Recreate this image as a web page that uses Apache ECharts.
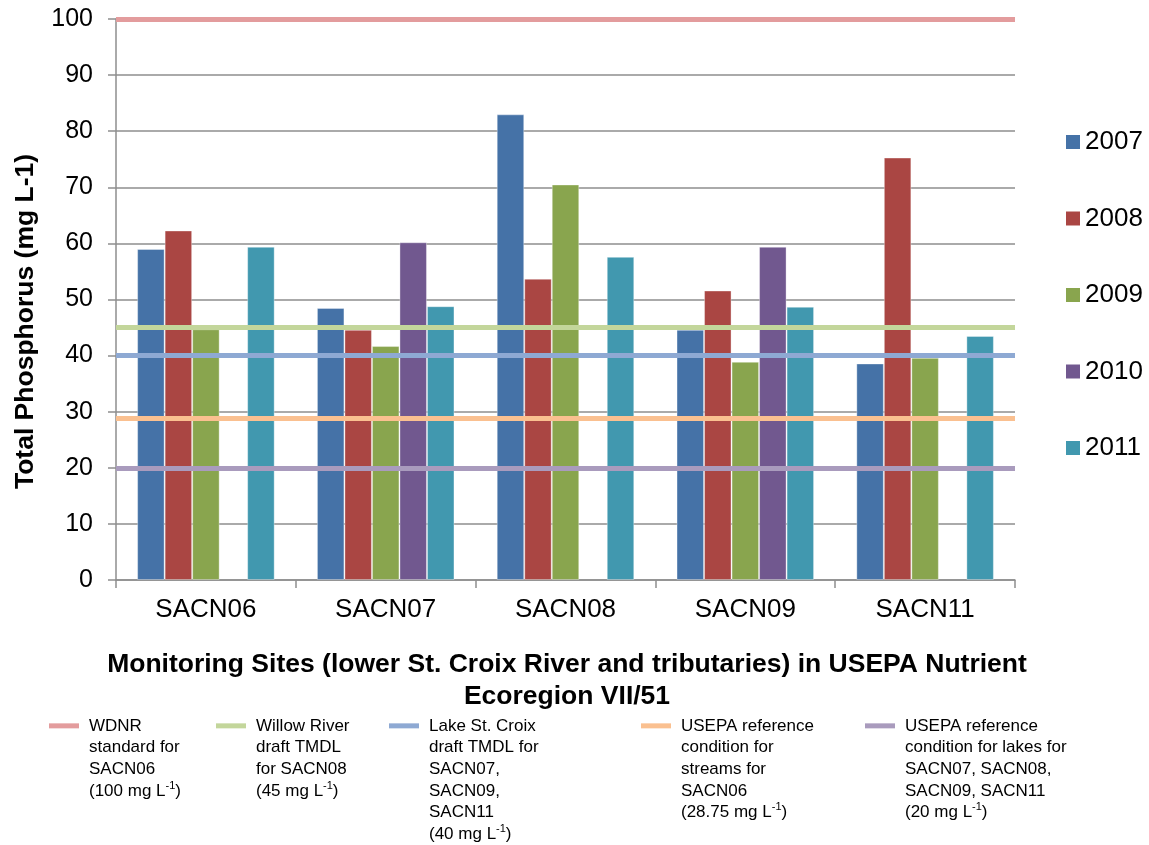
<!DOCTYPE html>
<html><head><meta charset="utf-8">
<script src="https://cdn.jsdelivr.net/npm/echarts@6/dist/echarts.min.js"></script>
<style>html,body{margin:0;padding:0;background:#fff}#c{width:1149px;height:845px}</style>
</head><body><div id="c"></div>
<script>
// ---------- data ----------
const categories = ['SACN06', 'SACN07', 'SACN08', 'SACN09', 'SACN11'];
const years = ['2007', '2008', '2009', '2010', '2011'];
const v2007 = [59.0, 48.5, 83.0, 44.6, 38.6];
const v2008 = [62.3, 44.6, 53.7, 51.6, 75.3];
const v2009 = [44.7, 41.7, 70.5, 38.9, 39.6];
const v2010 = [null, 60.2, null, 59.4, null];
const v2011 = [59.4, 48.8, 57.6, 48.7, 43.5];
const yearValues = [v2007, v2008, v2009, v2010, v2011];

const refNames = [
  'WDNR standard for SACN06 (100 mg L-1)',
  'Willow River draft TMDL for SACN08 (45 mg L-1)',
  'Lake St. Croix draft TMDL for SACN07, SACN09, SACN11 (40 mg L-1)',
  'USEPA reference condition for streams for SACN06 (28.75 mg L-1)',
  'USEPA reference condition for lakes for SACN07, SACN08, SACN09, SACN11 (20 mg L-1)'
];
const refLegendText = [
  'WDNR\nstandard for\nSACN06\n(100 mg L-1)',
  'Willow River\ndraft TMDL\nfor SACN08\n(45 mg L-1)',
  'Lake St. Croix\ndraft TMDL for\nSACN07,\nSACN09,\nSACN11\n(40 mg L-1)',
  'USEPA reference\ncondition for\nstreams for\nSACN06\n(28.75 mg L-1)',
  'USEPA reference\ncondition for lakes for\nSACN07, SACN08,\nSACN09, SACN11\n(20 mg L-1)'
];
const refValues = [100, 45, 40, 28.75, 20];

const yAxisTitle = 'Total Phosphorus (mg L-1)';
const xAxisTitle = 'Monitoring Sites (lower St. Croix River and tributaries) in USEPA Nutrient\nEcoregion VII/51';

// ---------- style ----------
const FONT = 'Liberation Sans, Arial, sans-serif';
const barColors = ['#4572A7', '#AA4643', '#89A54E', '#71588F', '#4198AF'];
const refColors = ['#E39C9D', '#C3D69B', '#8EA9D3', '#FAC090', '#A99BBD'];
const refLegendLeft = [49, 216, 389, 641, 865];
const LH = 21.7;

const series = [];
years.forEach((y, i) => {
  series.push({
    name: y, type: 'bar', data: yearValues[i],
    barGap: '0%', barCategoryGap: '23.5%',
    itemStyle: { color: barColors[i], borderColor: 'rgba(255,255,255,0.35)', borderWidth: 1 },
    emphasis: { disabled: true }
  });
});
refNames.forEach((n, i) => {
  series.push({
    name: n, type: 'line', data: [],
    color: refColors[i],
    itemStyle: { color: refColors[i] },
    lineStyle: { color: refColors[i] },
    markLine: {
      silent: true, symbol: 'none', label: { show: false },
      lineStyle: { color: refColors[i], width: 5, type: 'solid' },
      emphasis: { disabled: true },
      data: [{ yAxis: refValues[i] }]
    }
  });
});

const legends = [{
  data: years, orient: 'vertical', left: 1066, top: 129,
  itemWidth: 14, itemHeight: 14, itemGap: 50.5, icon: 'rect', padding: 0,
  itemStyle: { borderWidth: 0 },
  textStyle: { fontFamily: FONT, fontSize: 26, color: '#000' }
}];
refNames.forEach((n, i) => {
  const nLines = refLegendText[i].split('\n').length;
  legends.push({
    data: [n], left: refLegendLeft[i], top: 715 - (nLines - 1) * LH,
    itemWidth: 30, itemHeight: 5, icon: 'rect', padding: 0,
    formatter: () => refLegendText[i].replace('L-1)', 'L{sup|-1})'),
    textStyle: {
      fontFamily: FONT, fontSize: 17, color: '#000', lineHeight: LH,
      padding: [(nLines - 1) * LH, 0, 0, 5],
      rich: { sup: { fontFamily: FONT, fontSize: 11, lineHeight: 14, verticalAlign: 'top', color: '#000' } }
    }
  });
});

const option = {
  animation: false,
  backgroundColor: '#fff',
  textStyle: { fontFamily: FONT },
  grid: { left: 116, right: 134, top: 19, bottom: 265, containLabel: false },
  legend: legends,
  xAxis: {
    type: 'category', data: categories,
    axisLine: { show: true, lineStyle: { color: '#8e8e8e', width: 1.5 } },
    axisTick: { show: true, length: 8, alignWithLabel: false, lineStyle: { color: '#8e8e8e', width: 1.5 } },
    axisLabel: { fontFamily: FONT, fontSize: 26, color: '#000', margin: 17 },
    name: xAxisTitle, nameLocation: 'middle', nameGap: 68,
    nameTextStyle: { fontFamily: FONT, fontSize: 26.5, fontWeight: 'bold', color: '#000', lineHeight: 32.5, padding: [0, 0, 0, 3] }
  },
  yAxis: {
    type: 'value', min: 0, max: 100, interval: 10,
    axisLine: { show: true, lineStyle: { color: '#8e8e8e', width: 1.5 } },
    axisTick: { show: true, length: 8, lineStyle: { color: '#8e8e8e', width: 1.5 } },
    splitLine: { show: true, lineStyle: { color: '#8e8e8e', width: 1.5 } },
    axisLabel: { fontFamily: FONT, fontSize: 25, color: '#000', margin: 23 },
    name: yAxisTitle, nameLocation: 'middle', nameGap: 77, nameRotate: 90,
    nameTextStyle: { fontFamily: FONT, fontSize: 26.5, fontWeight: 'bold', color: '#000', padding: [0, 44, 0, 0] }
  },
  series: series
};
const chart = echarts.init(document.getElementById('c'), null, { renderer: 'canvas' });
chart.setOption(option);
</script>
</body></html>
